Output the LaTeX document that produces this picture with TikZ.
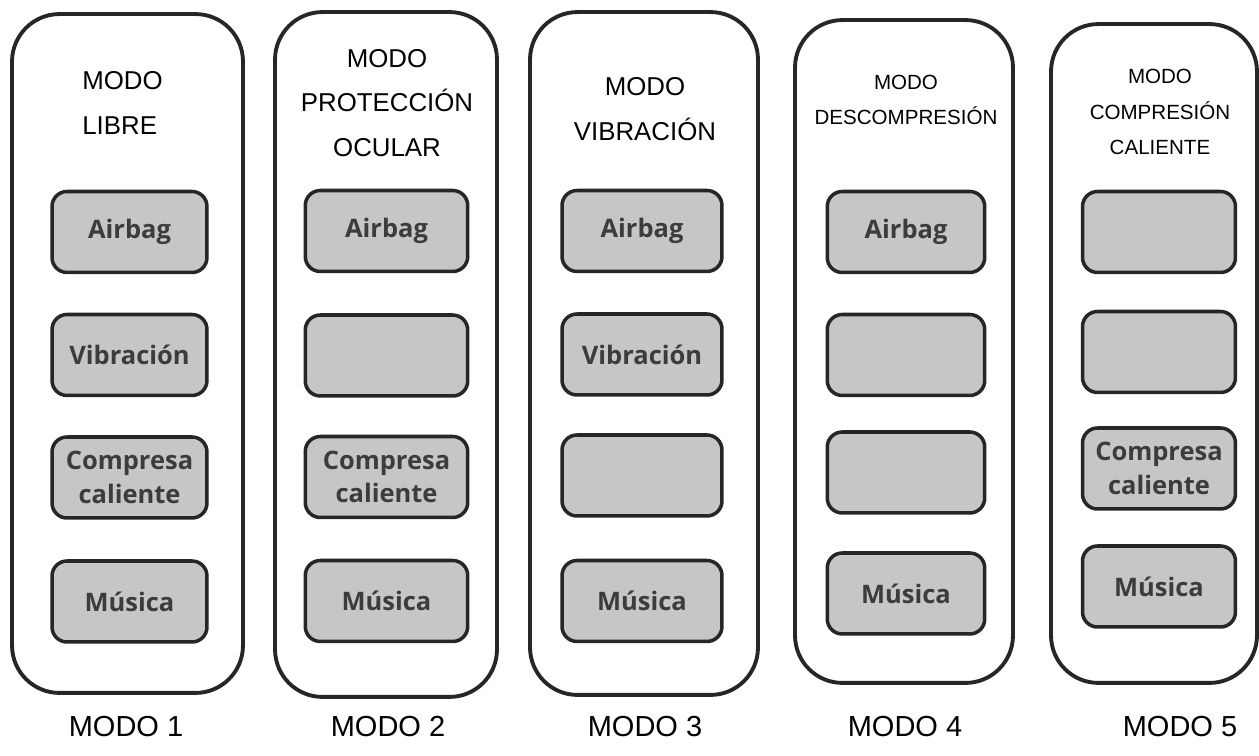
\documentclass[tikz,border=0pt]{standalone}
\usepackage{fontspec}
\setmainfont{Liberation Sans}
\newfontfamily\btnfont{Open Sans}
\usepackage{tikz}
\usepackage{xcolor}
\definecolor{inkdark}{HTML}{262626}
\definecolor{btngray}{HTML}{C6C6C6}
\definecolor{btntext}{HTML}{3C3C3C}
\tikzstyle{modebox} = [draw=inkdark, fill=white, line width=2.2pt, rectangle, rounded corners=0.95cm, inner sep=0pt]
\tikzstyle{btn} = [draw=inkdark, fill=btngray, line width=2pt, rectangle, rounded corners=0.3cm, minimum width=3.15cm, minimum height=1.62cm, inner sep=0pt, align=center, text=btntext, font=\btnfont\bfseries\fontsize{14.5}{19}\selectfont]
\tikzstyle{modetitle} = [align=center, inner sep=0pt, font=\fontsize{14.7}{25.5}\selectfont]
\tikzstyle{smalltitle} = [align=center, inner sep=0pt, font=\fontsize{11.7}{20}\selectfont]
\tikzstyle{modelabel} = [inner sep=0pt, font=\fontsize{16.5}{20}\selectfont]

\begin{document}
\begin{tikzpicture}[x=0.02cm, y=-0.02cm]
\useasboundingbox (0,0) rectangle (1259,756);

% outer frames
\node [modebox, minimum width=4.62cm, minimum height=13.58cm] (m1) at (127.5,353.5) {};
\node [modebox, minimum width=4.44cm, minimum height=13.70cm] (m2) at (386,354.5) {};
\node [modebox, minimum width=4.56cm, minimum height=13.66cm] (m3) at (644,353.5) {};
\node [modebox, minimum width=4.36cm, minimum height=13.26cm] (m4) at (904,351.5) {};
\node [modebox, minimum width=4.12cm, minimum height=13.18cm] (m5) at (1154,353.5) {};

% titles
\node [modetitle, align=left, anchor=west] (t1) at (82,103) {MODO\\LIBRE};
\node [modetitle] (t2) at (387,103) {MODO\\PROTECCIÓN\\OCULAR};
\node [modetitle] (t3) at (645,109) {MODO\\VIBRACIÓN};
\node [smalltitle] (t4) at (906,100) {MODO\\DESCOMPRESIÓN};
\node [smalltitle] (t5) at (1160,112) {MODO\\COMPRESIÓN\\CALIENTE};

% modo 1
\node [btn, minimum width=3.1cm] (b11) at (129.5,232) {Airbag};
\node [btn, minimum width=3.1cm] (b12) at (129.5,355) {Vibración};
\node [btn, minimum width=3.1cm] (b13) at (129.5,477.5) {Compresa\\caliente};
\node [btn, minimum width=3.1cm] (b14) at (129.5,601.5) {Música};

% modo 2
\node [btn, minimum width=3.25cm] (b21) at (386.5,231) {Airbag};
\node [btn, minimum width=3.25cm] (b22) at (386.5,355.5) {};
\node [btn, minimum width=3.25cm] (b23) at (386.5,477) {Compresa\\caliente};
\node [btn, minimum width=3.25cm] (b24) at (386.5,601) {Música};

% modo 3
\node [btn, minimum width=3.2cm] (b31) at (642,231) {Airbag};
\node [btn, minimum width=3.2cm] (b32) at (642,354.5) {Vibración};
\node [btn, minimum width=3.2cm] (b33) at (642,475.5) {};
\node [btn, minimum width=3.2cm] (b34) at (642,601) {Música};

% modo 4
\node [btn] (b41) at (906,232) {Airbag};
\node [btn] (b42) at (906,355) {};
\node [btn] (b43) at (906,472.5) {};
\node [btn] (b44) at (906,593.5) {Música};

% modo 5
\node [btn, minimum width=3.06cm] (b51) at (1159,232) {};
\node [btn, minimum width=3.06cm] (b52) at (1159,352) {};
\node [btn, minimum width=3.06cm] (b53) at (1159,468.5) {Compresa\\caliente};
\node [btn, minimum width=3.06cm] (b54) at (1159,586.5) {Música};

% labels under the frames
\node [modelabel] (l1) at (126,727) {MODO 1};
\node [modelabel] (l2) at (388,727) {MODO 2};
\node [modelabel] (l3) at (645,727) {MODO 3};
\node [modelabel] (l4) at (905,727) {MODO 4};
\node [modelabel] (l5) at (1180,727) {MODO 5};
\end{tikzpicture}
\end{document}
